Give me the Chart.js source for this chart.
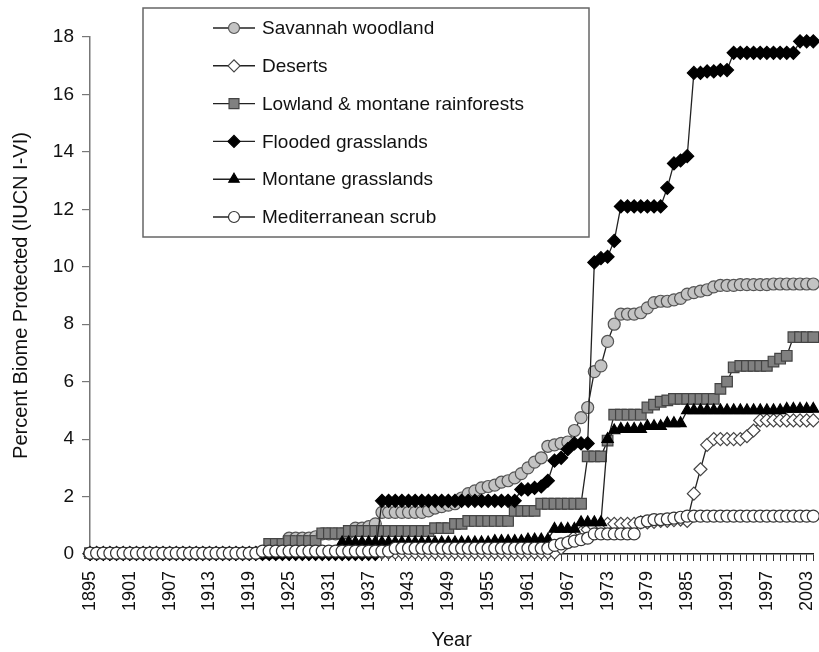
<!DOCTYPE html>
<html>
<head>
<meta charset="utf-8">
<title>Percent Biome Protected</title>
<script src="https://cdn.jsdelivr.net/npm/chart.js@4.4.1/dist/chart.umd.min.js"></script>
<style>
    html, body { margin: 0; padding: 0; background: #fff; overflow: hidden; }
    #wrap { width: 819px; height: 652px; overflow: hidden; }
</style>
</head>
<body>
<!-- canvas hơi rộng hơn khung để điểm cuối bị cắt như hình gốc -->
<div id="wrap"><canvas id="chart" width="822" height="652"></canvas></div>
<script>
// Năm (trục X), 1895 - 2004
const years = [
    1895, 1896, 1897, 1898, 1899, 1900, 1901, 1902, 1903, 1904,
    1905, 1906, 1907, 1908, 1909, 1910, 1911, 1912, 1913, 1914,
    1915, 1916, 1917, 1918, 1919, 1920, 1921, 1922, 1923, 1924,
    1925, 1926, 1927, 1928, 1929, 1930, 1931, 1932, 1933, 1934,
    1935, 1936, 1937, 1938, 1939, 1940, 1941, 1942, 1943, 1944,
    1945, 1946, 1947, 1948, 1949, 1950, 1951, 1952, 1953, 1954,
    1955, 1956, 1957, 1958, 1959, 1960, 1961, 1962, 1963, 1964,
    1965, 1966, 1967, 1968, 1969, 1970, 1971, 1972, 1973, 1974,
    1975, 1976, 1977, 1978, 1979, 1980, 1981, 1982, 1983, 1984,
    1985, 1986, 1987, 1988, 1989, 1990, 1991, 1992, 1993, 1994,
    1995, 1996, 1997, 1998, 1999, 2000, 2001, 2002, 2003, 2004
];

// Nhãn năm được hiển thị dưới trục X
const shownYears = [1895, 1901, 1907, 1913, 1919, 1925, 1931, 1937, 1943, 1949,
    1955, 1961, 1967, 1973, 1979, 1985, 1991, 1997, 2003];

// Nhãn trục Y
const yTicks = [0, 2, 4, 6, 8, 10, 12, 14, 16, 18];

const savannah = [
    0.02, 0.02, 0.02, 0.02, 0.02, 0.02, 0.02, 0.02, 0.02, 0.02,
    0.02, 0.02, 0.02, 0.02, 0.02, 0.02, 0.02, 0.02, 0.02, 0.02,
    0.02, 0.02, 0.02, 0.02, 0.02, 0.03, 0.03, 0.03, 0.03, 0.05,
    0.55, 0.55, 0.55, 0.55, 0.6, 0.7, 0.7, 0.7, 0.7, 0.75,
    0.9, 0.9, 0.95, 1.05, 1.45, 1.45, 1.45, 1.45, 1.45, 1.45,
    1.45, 1.5, 1.6, 1.65, 1.7, 1.75, 1.95, 2.1, 2.2, 2.3,
    2.35, 2.4, 2.5, 2.55, 2.65, 2.8, 3.0, 3.2, 3.35, 3.75,
    3.8, 3.85, 3.9, 4.3, 4.75, 5.1, 6.35, 6.55, 7.4, 8.0,
    8.35, 8.35, 8.35, 8.4, 8.57, 8.75, 8.8, 8.8, 8.85, 8.9,
    9.05, 9.1, 9.15, 9.2, 9.3, 9.35, 9.35, 9.35, 9.38, 9.38,
    9.38, 9.38, 9.38, 9.4, 9.4, 9.4, 9.4, 9.4, 9.4, 9.4
];

const deserts = [
    0.03, 0.03, 0.03, 0.03, 0.03, 0.03, 0.03, 0.03, 0.03, 0.03,
    0.03, 0.03, 0.03, 0.03, 0.03, 0.03, 0.03, 0.03, 0.03, 0.03,
    0.03, 0.03, 0.03, 0.03, 0.03, 0.03, 0.03, 0.03, 0.03, 0.03,
    0.03, 0.03, 0.03, 0.03, 0.03, 0.03, 0.03, 0.03, 0.03, 0.03,
    0.05, 0.05, 0.05, 0.05, 0.05, 0.05, 0.05, 0.05, 0.05, 0.05,
    0.05, 0.05, 0.05, 0.05, 0.05, 0.05, 0.05, 0.05, 0.05, 0.05,
    0.05, 0.05, 0.05, 0.05, 0.05, 0.05, 0.05, 0.05, 0.05, 0.05,
    0.05, 0.2, 0.4, 0.6, 0.75, 0.85, 0.95, 1.0, 1.05, 1.05,
    1.05, 1.05, 1.05, 1.1, 1.1, 1.12, 1.15, 1.15, 1.18, 1.2,
    1.15, 2.1, 2.95, 3.8, 4.0, 4.0, 4.0, 4.0, 4.0, 4.1,
    4.3, 4.65, 4.65, 4.65, 4.65, 4.65, 4.65, 4.65, 4.65, 4.65
];

const lowland = [
    0.03, 0.03, 0.03, 0.03, 0.03, 0.03, 0.03, 0.03, 0.03, 0.03,
    0.03, 0.03, 0.03, 0.03, 0.03, 0.03, 0.03, 0.03, 0.03, 0.03,
    0.03, 0.03, 0.03, 0.03, 0.03, 0.03, 0.03, 0.35, 0.35, 0.35,
    0.45, 0.45, 0.45, 0.45, 0.45, 0.72, 0.72, 0.72, 0.72, 0.8,
    0.8, 0.8, 0.8, 0.8, 0.8, 0.8, 0.8, 0.8, 0.8, 0.8,
    0.8, 0.8, 0.9, 0.9, 0.9, 1.05, 1.05, 1.15, 1.15, 1.15,
    1.15, 1.15, 1.15, 1.15, 1.5, 1.5, 1.5, 1.5, 1.75, 1.75,
    1.75, 1.75, 1.75, 1.75, 1.75, 3.4, 3.4, 3.4, 3.95, 4.85,
    4.85, 4.85, 4.85, 4.85, 5.1, 5.2, 5.3, 5.35, 5.4, 5.4,
    5.4, 5.4, 5.4, 5.4, 5.4, 5.75, 6.0, 6.5, 6.55, 6.55,
    6.55, 6.55, 6.55, 6.7, 6.8, 6.9, 7.55, 7.55, 7.55, 7.55
];

const flooded = [
    0, 0, 0, 0, 0, 0, 0, 0, 0, 0,
    0, 0, 0, 0, 0, 0, 0, 0, 0, 0,
    0, 0, 0, 0, 0, 0, 0, 0, 0, 0,
    0, 0, 0, 0, 0, 0, 0, 0, 0, 0,
    0, 0, 0, 0, 1.85, 1.85, 1.85, 1.85, 1.85, 1.85,
    1.85, 1.85, 1.85, 1.85, 1.85, 1.85, 1.85, 1.85, 1.85, 1.85,
    1.85, 1.85, 1.85, 1.85, 1.85, 2.25, 2.25, 2.3, 2.35, 2.55,
    3.25, 3.35, 3.65, 3.85, 3.85, 3.85, 10.15, 10.3, 10.35, 10.9,
    12.1, 12.1, 12.1, 12.1, 12.1, 12.1, 12.1, 12.75, 13.6, 13.7,
    13.85, 16.75, 16.75, 16.8, 16.8, 16.85, 16.85, 17.45, 17.45, 17.45,
    17.45, 17.45, 17.45, 17.45, 17.45, 17.45, 17.45, 17.85, 17.85, 17.85
];

const montane = [
    0.03, 0.03, 0.03, 0.03, 0.03, 0.03, 0.03, 0.03, 0.03, 0.03,
    0.03, 0.03, 0.03, 0.03, 0.03, 0.03, 0.03, 0.03, 0.03, 0.03,
    0.03, 0.03, 0.03, 0.03, 0.03, 0.03, 0.03, 0.03, 0.03, 0.03,
    0.03, 0.03, 0.03, 0.03, 0.03, 0.03, 0.03, 0.03, 0.4, 0.4,
    0.4, 0.4, 0.4, 0.4, 0.4, 0.4, 0.4, 0.4, 0.4, 0.4,
    0.4, 0.4, 0.4, 0.4, 0.4, 0.4, 0.4, 0.4, 0.4, 0.4,
    0.4, 0.45, 0.45, 0.45, 0.45, 0.45, 0.5, 0.5, 0.5, 0.5,
    0.87, 0.87, 0.87, 0.87, 1.1, 1.1, 1.1, 1.1, 4.0, 4.3,
    4.35, 4.35, 4.35, 4.35, 4.45, 4.45, 4.45, 4.55, 4.55, 4.55,
    5.0, 5.0, 5.0, 5.0, 5.0, 5.0, 5.0, 5.0, 5.0, 5.0,
    5.0, 5.0, 5.0, 5.0, 5.0, 5.05, 5.05, 5.05, 5.05, 5.05
];

const mediterranean = [
    0.03, 0.03, 0.03, 0.03, 0.03, 0.03, 0.03, 0.03, 0.03, 0.03,
    0.03, 0.03, 0.03, 0.03, 0.03, 0.03, 0.03, 0.03, 0.03, 0.03,
    0.03, 0.03, 0.03, 0.03, 0.03, 0.03, 0.1, 0.1, 0.1, 0.1,
    0.1, 0.1, 0.1, 0.1, 0.1, 0.1, 0.1, 0.1, 0.1, 0.1,
    0.1, 0.1, 0.1, 0.1, 0.1, 0.1, 0.2, 0.2, 0.2, 0.2,
    0.2, 0.2, 0.2, 0.2, 0.2, 0.2, 0.2, 0.2, 0.2, 0.2,
    0.2, 0.2, 0.2, 0.2, 0.2, 0.2, 0.2, 0.2, 0.2, 0.2,
    0.3, 0.35, 0.4, 0.45, 0.5, 0.55, 0.7, 0.7, 0.7, 0.7,
    0.7, 0.7, 0.7, 1.1, 1.15, 1.2, 1.2, 1.22, 1.25, 1.28,
    1.32, 1.32, 1.32, 1.32, 1.32, 1.32, 1.32, 1.32, 1.32, 1.32,
    1.32, 1.32, 1.32, 1.32, 1.32, 1.32, 1.32, 1.32, 1.32, 1.32
];

const seriesNames = ['Savannah woodland', 'Deserts', 'Lowland & montane rainforests',
    'Flooded grasslands', 'Montane grasslands', 'Mediterranean scrub'];

const FONT = "'Liberation Sans', Arial, Helvetica, sans-serif";

// Kiểu điểm cho từng chuỗi
function makeSeries(label, data, style, radius, fill, stroke, order) {
    return {
        label: label,
        data: data,
        order: order,
        borderColor: '#222',
        borderWidth: 1.3,
        pointStyle: style,
        pointRadius: radius,
        pointBackgroundColor: fill,
        pointBorderColor: stroke,
        pointBorderWidth: 1.2,
        tension: 0,
        clip: false,
        fill: false
    };
}

const datasets = [
    makeSeries(seriesNames[0], savannah, 'circle', 6, '#c3c3c3', '#555', 6),
    makeSeries(seriesNames[1], deserts, 'rectRot', 6.5, '#ffffff', '#444', 5),
    makeSeries(seriesNames[2], lowland, 'rect', 7.5, '#808080', '#444', 4),
    makeSeries(seriesNames[3], flooded, 'rectRot', 6.5, '#000000', '#000', 3),
    makeSeries(seriesNames[4], montane, 'triangle', 6.5, '#000000', '#000', 2),
    makeSeries(seriesNames[5], mediterranean, 'circle', 6, '#ffffff', '#333', 1)
];

// Chú giải vẽ bên trong vùng biểu đồ, có khung
const boxLegend = {
    id: 'boxLegend',
    afterDatasetsDraw(chart) {
        const ctx = chart.ctx;
        const box = {left: 143, top: 8, right: 589, bottom: 237};
        ctx.save();
        ctx.fillStyle = '#fff';
        ctx.fillRect(box.left, box.top, box.right - box.left, box.bottom - box.top);
        ctx.strokeStyle = '#666';
        ctx.lineWidth = 1.5;
        ctx.strokeRect(box.left, box.top, box.right - box.left, box.bottom - box.top);

        chart.data.datasets.forEach((ds, i) => {
            const y = 28 + i * 37.8;
            ctx.strokeStyle = '#222';
            ctx.lineWidth = 1.4;
            ctx.beginPath();
            ctx.moveTo(213, y);
            ctx.lineTo(255, y);
            ctx.stroke();

            ctx.fillStyle = ds.pointBackgroundColor;
            ctx.strokeStyle = ds.pointBorderColor;
            ctx.lineWidth = 1.2;
            Chart.helpers.drawPoint(ctx, {
                pointStyle: ds.pointStyle,
                radius: ds.pointRadius - 0.5,
                rotation: 0,
                borderWidth: 1.2
            }, 234, y);

            ctx.fillStyle = '#111';
            ctx.font = '19px ' + FONT;
            ctx.textAlign = 'left';
            ctx.textBaseline = 'middle';
            ctx.fillText(ds.label, 262, y + 1);
        });
        ctx.restore();
    }
};

const ctx = document.getElementById('chart').getContext('2d');

new Chart(ctx, {
    type: 'line',
    data: {
        labels: years,
        datasets: datasets
    },
    options: {
        responsive: false,
        animation: false,
        events: [],
        layout: {
            padding: {top: 37, right: 0, left: 0, bottom: 0}
        },
        plugins: {
            legend: {display: false},
            tooltip: {enabled: false}
        },
        scales: {
            x: {
                type: 'category',
                offset: false,
                grid: {
                    drawOnChartArea: false,
                    drawTicks: true,
                    tickLength: 7,
                    color: '#333',
                    lineWidth: 1
                },
                border: {color: '#222', width: 1.5},
                ticks: {
                    autoSkip: false,
                    minRotation: 90,
                    maxRotation: 90,
                    padding: 10,
                    color: '#111',
                    font: {family: FONT, size: 18},
                    callback: function (value) {
                        const y = years[value];
                        return shownYears.includes(y) ? String(y) : '';
                    }
                },
                title: {
                    display: true,
                    text: 'Year',
                    color: '#111',
                    font: {family: FONT, size: 20},
                    padding: {top: 0, bottom: 0}
                },
                afterFit: function (scale) {
                    scale.height = 98;
                    scale.paddingLeft = 0;
                    scale.paddingRight = 0;
                }
            },
            y: {
                min: 0,
                max: 18,
                afterBuildTicks: function (scale) {
                    scale.ticks = yTicks.map(v => ({value: v}));
                },
                grid: {
                    drawOnChartArea: false,
                    drawTicks: true,
                    tickLength: 8,
                    color: '#777',
                    lineWidth: 1.2
                },
                border: {color: '#777', width: 1.5},
                ticks: {
                    padding: 8,
                    color: '#111',
                    font: {family: FONT, size: 19}
                },
                title: {
                    display: true,
                    text: 'Percent Biome Protected (IUCN I-VI)',
                    color: '#111',
                    font: {family: FONT, size: 20},
                    padding: {top: 9, bottom: 0}
                },
                afterFit: function (scale) {
                    scale.width = 90;
                    scale.paddingTop = 0;
                    scale.paddingBottom = 0;
                }
            }
        }
    },
    plugins: [boxLegend]
});
</script>
</body>
</html>
